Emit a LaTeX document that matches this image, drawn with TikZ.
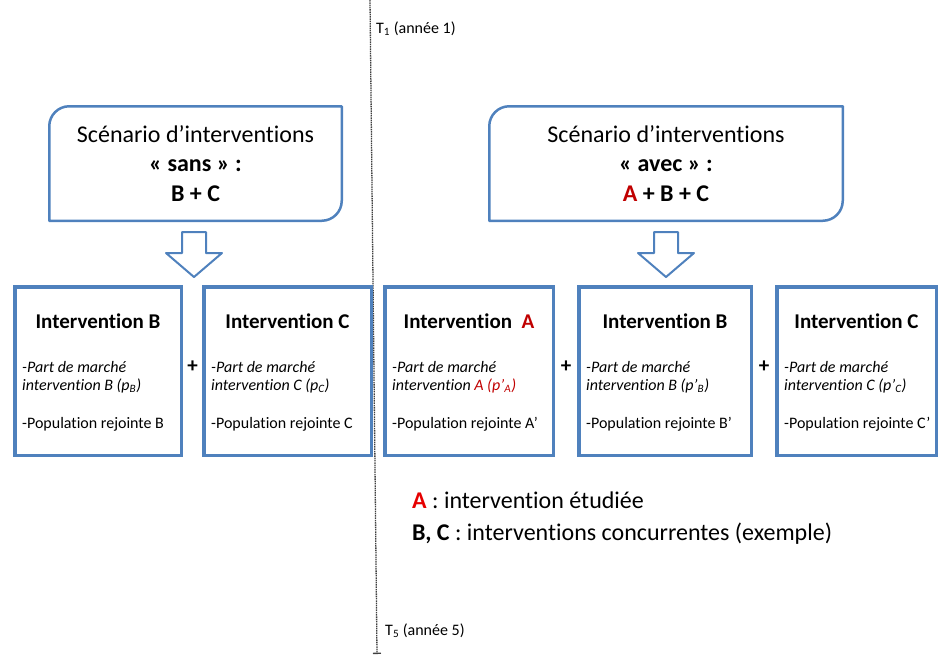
\documentclass[tikz,border=0pt]{standalone}
\usepackage{fontspec}
\setmainfont{Carlito}[Ligatures=NoCommon]
\usepackage{tikz}
\usetikzlibrary{arrows.meta, calc, positioning}
\definecolor{boxblue}{HTML}{4F81BD}
\definecolor{darkred}{HTML}{C00000}
\definecolor{legendred}{HTML}{E60000}
\newcommand{\ScenarioFrame}[2][20]{
	\def\rr{#1}
	\draw[sline] (#2.south west) -- ($ (#2.north west)+(0,\rr) $) arc[start angle=180, end angle=270, radius=\rr]
		-- (#2.north east) -- ($ (#2.south east)-(0,\rr) $) arc[start angle=0, end angle=90, radius=\rr] -- cycle;
}
\newcommand{\HollowArrow}[1]{
	\draw[sline, line width=2pt] ($ (#1)+(-12,0) $) -- ++(24,0) -- ++(0,21) -- ++(16,0) -- ($ (#1)+(0,45) $)
		-- ($ (#1)+(-28,21) $) -- ++(16,0) -- cycle;
}
\newcommand{\InterventionBox}[7]{
	\node[ibox, minimum width=#3] (#1) at (#2,371) {};
	\node[ititle] (#1-title) at ($ (#1.north)+(0,41.25) $) {#4};
	\node[iline] (#1-part) at ($ (#1.north west)+(7.25,85.25) $) {#5};
	\node[iline] (#1-int) at ($ (#1.north west)+(7.25,103.25) $) {#6};
	\node[iline] (#1-pop) at ($ (#1.north west)+(7.25,141.25) $) {#7};
}

\begin{document}
\begin{tikzpicture}[x=1pt, y=-1pt,
	sline/.style={draw=boxblue, line width=2.5pt, line join=round},
	sbox/.style={inner sep=0, outer sep=0, align=center, minimum height=114.5,
		font=\fontsize{24}{29.5}\selectfont},
	ibox/.style={draw=boxblue, line width=3.5pt, inner sep=0, outer sep=0, minimum height=168.5},
	ititle/.style={anchor=base, inner sep=0, font=\bfseries\fontsize{21}{25}\selectfont},
	iline/.style={anchor=base west, inner sep=0, font=\fontsize{16}{19}\selectfont},
	plus/.style={inner sep=0, font=\bfseries\fontsize{21}{25}\selectfont},
	timeline/.style={black!75, line width=1.3pt, dash pattern=on 1.5pt off 0.8pt},
	tlabel/.style={anchor=base west, inner sep=0, font=\fontsize{16}{19}\selectfont},
	legend/.style={anchor=base west, inner sep=0, font=\fontsize{24}{28}\selectfont}]

	\useasboundingbox (0,0) rectangle (938,657);
	\clip (0,0) rectangle (938,657);

	% time axis
	\coordinate (tTop) at (370,0);
	\coordinate (tBot) at (377,654);
	\draw[timeline, -{Bar[width=8pt, line width=1.3pt]}] (tTop) -- (tBot);
	\node[tlabel] (tOne) at (376,33) {T\textsubscript{1} (année 1)};
	\node[tlabel] (tFive) at (385,635) {T\textsubscript{5} (année 5)};

	% scenario boxes
	\node[sbox, minimum width=292.5] (sans) at (195.5,163.5)
		{Scénario d’interventions\\ \textbf{« sans » :}\\ \textbf{B + C}};
	\ScenarioFrame{sans}
	\node[sbox, minimum width=353.5] (avec) at (666,163.5)
		{Scénario d’interventions\\ \textbf{« avec » :}\\ \textbf{\textcolor{darkred}{A} + B + C}};
	\ScenarioFrame{avec}

	\coordinate (arrSans) at ($ (sans.south)+(-1.5,11.25) $);
	\coordinate (arrAvec) at ($ (avec.south)+(0,11.25) $);
	\HollowArrow{arrSans}
	\HollowArrow{arrAvec}

	% interventions "sans"
	\InterventionBox{sB}{98}{166.5}{Intervention B}{\textit{-Part de marché}}
		{\textit{intervention B (p\textsubscript{B})}}{-Population rejointe B}
	\InterventionBox{sC}{287.5}{167.5}{Intervention C}{\textit{-Part de marché}}
		{\textit{intervention C (p\textsubscript{C})}}{-Population rejointe C}

	% interventions "avec"
	\InterventionBox{aA}{469}{168.5}{Intervention\ \ \textcolor{darkred}{A}}{\textit{-Part de marché}}
		{\textit{intervention \textcolor{darkred}{A (p’\textsubscript{A})}}}{-Population rejointe A’}
	\InterventionBox{aB}{665}{172.5}{Intervention B}{\textit{-Part de marché}}
		{\textit{intervention B (p’\textsubscript{B})}}{-Population rejointe B’}
	\InterventionBox{aC}{856.5}{159.5}{Intervention C}{\textit{-Part de marché}}
		{\textit{intervention C (p’\textsubscript{C})}}{-Population rejointe C’}

	\node[plus] (plusOne) at ($ (sB.east)!0.5!(sC.west)+(0,-4) $) {+};
	\node[plus] (plusTwo) at ($ (aA.east)!0.5!(aB.west)+(0,-4) $) {+};
	\node[plus] (plusThree) at ($ (aB.east)!0.5!(aC.west)+(0,-4) $) {+};

	% legend
	\node[legend] (legA) at (412,508) {\textbf{\textcolor{legendred}{A}} : intervention étudiée};
	\node[legend] (legBC) at (412,540) {\textbf{B, C} : interventions concurrentes (exemple)};

\end{tikzpicture}
\end{document}
